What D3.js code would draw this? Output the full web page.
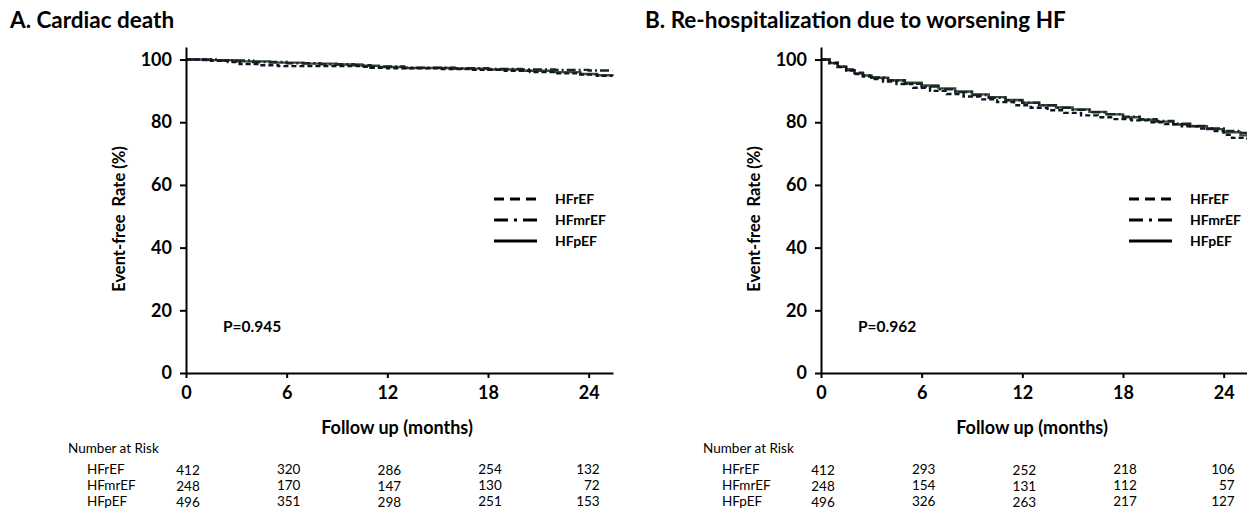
<html>
<head>
<script src="https://d3js.org/d3.v7.min.js"></script>
<style>
  body { margin: 0; background: #fff; }
  text { font-family: Lato, "Open Sans", sans-serif; fill: #000; }
  .axis path, .axis line { stroke: #000; stroke-width: 2; }
  .axis text { font-weight: bold; font-size: 18px; }
  .curve { fill: none; stroke-width: 2.4; }
</style>
</head>
<body>
<svg id="chart" width="1247" height="515"></svg>
<script>
// groups + styles
const groups = ['HFrEF', 'HFmrEF', 'HFpEF'];
const monthTicks = [0, 6, 12, 18, 24];
const rateTicks = [0, 20, 40, 60, 80, 100];

// A. cardiac death [month, event-free %]
const cardiacHFrEF = [[0,100],[1.5,99.6],[2.5,99.2],[3.2,98.6],[4.5,98.2],[5.5,97.9],[10.5,97.7],[11,97.4],[12,97.2],[15,97.0],[17,96.7],[19,96.4],[20.5,96.0],[22,95.6],[23.5,95.2],[24.5,94.8],[25.4,94.6]];
const cardiacHFmrEF = [[0,100],[2,99.7],[4,99.2],[6,98.8],[8,98.5],[10,98.2],[11,97.8],[13,97.4],[16,97.2],[18,97.0],[20,96.8],[22,96.7],[24,96.5],[25.4,96.5]];
const cardiacHFpEF = [[0,100],[1,99.8],[3,99.4],[5,99.0],[7,98.7],[9,98.4],[10.5,98.0],[11.5,97.6],[13,97.3],[16,97.1],[18,96.8],[20,96.4],[22,96.0],[23.5,95.4],[24.5,95.0],[25.4,94.8]];

// B. re-hospitalization
const rehospHFrEF = [[0,100],[0.5,98.8],[1,97.6],[1.5,96.5],[2,95.4],[2.5,94.6],[3,93.8],[3.7,93.0],[4.5,92.2],[5.5,91.0],[6.5,90.0],[7.5,89.0],[8.5,88.2],[9.5,87.3],[10.5,86.4],[11.5,85.4],[12.5,84.6],[13.5,83.8],[14.5,83.0],[15.5,82.2],[16.5,81.6],[17.5,81.0],[18.5,80.6],[19.5,80.0],[20.5,79.4],[21.5,78.7],[22.5,78.0],[23.3,77.2],[24,76.0],[24.5,75.0],[25.4,74.5]];
const rehospHFmrEF = [[0,100],[0.5,99.0],[1,97.8],[1.5,96.8],[2,95.8],[2.5,95.0],[3,94.3],[4,93.3],[5,92.3],[6,91.4],[7,90.5],[8,89.6],[9,88.7],[10,87.8],[11,87.0],[12,86.2],[13,85.4],[14,84.6],[15,84.0],[16,83.2],[17,82.6],[18,81.8],[19,81.0],[20,80.4],[21,79.5],[22,78.8],[23,78.0],[24,77.2],[25,76.6],[25.4,76.6]];
const rehospHFpEF = [[0,100],[0.5,98.9],[1,97.7],[1.5,96.6],[2,95.6],[2.5,94.9],[3,94.2],[4,93.4],[5,92.6],[6,91.7],[7,90.8],[8,89.8],[9,88.9],[10,88.0],[11,87.1],[12,86.2],[13,85.4],[14,84.7],[15,84.1],[16,83.3],[17,82.5],[18,81.6],[19,80.8],[20,80.2],[21,79.3],[22,78.7],[23,77.8],[24,76.8],[25,75.8],[25.4,75.5]];

// number at risk (rows = groups, cols = monthTicks)
const riskCardiac = [[412,320,286,254,132],[248,170,147,130,72],[496,351,298,251,153]];
const riskRehosp = [[412,293,252,218,106],[248,154,131,112,57],[496,326,263,217,127]];

const dashes = ['5,3', '9,3,2,3', null];
const colors = ['#111326', '#1c2620', '#3a4d40'];
const legendDash = ['10,6', '14,6,3,6', null];

const svg = d3.select('#chart');

function drawPanel(opt) {
    const g = svg.append('g');
    const x = d3.scaleLinear().domain([0, 25.45]).range([opt.x0, opt.x0 + 427]);
    const y = d3.scaleLinear().domain([0, 104]).range([373, 47]);

    g.append('text')
        .attr('x', opt.titleX).attr('y', 28)
        .attr('font-size', 22.5).attr('font-weight', 'bold')
        .text(opt.title);

    // curves, solid one underneath
    const line = d3.line().x(d => x(d[0])).y(d => y(d[1])).curve(d3.curveStepAfter);
    [2, 1, 0].forEach(i => {
        g.append('path')
            .attr('class', 'curve')
            .attr('d', line(opt.curves[i]))
            .attr('stroke', colors[i])
            .attr('stroke-dasharray', dashes[i]);
    });

    let yAxis = d3.axisLeft(y).tickValues(rateTicks).tickSize(6).tickSizeOuter(0).tickPadding(8);
    g.append('g').attr('class', 'axis')
        .attr('transform', `translate(${opt.x0},0)`)
        .call(yAxis);

    let xAxis = d3.axisBottom(x).tickValues(monthTicks).tickSize(5).tickSizeOuter(0).tickPadding(8);
    g.append('g').attr('class', 'axis')
        .attr('transform', `translate(0,${y(0)})`)
        .call(xAxis);

    g.append('text')
        .attr('transform', `translate(${opt.x0 - 61},219) rotate(-90)`)
        .attr('text-anchor', 'middle')
        .attr('font-size', 16.5).attr('font-weight', 'bold')
        .attr('xml:space', 'preserve')
        .text('Event-free  Rate (%)');

    g.append('text')
        .attr('x', opt.x0 + 211).attr('y', 434)
        .attr('text-anchor', 'middle')
        .attr('font-size', 18).attr('font-weight', 'bold')
        .text('Follow up (months)');

    g.append('text')
        .attr('x', opt.x0 + 37).attr('y', 332)
        .attr('font-size', 15.5).attr('font-weight', 'bold')
        .text(opt.p);

    // legend
    groups.forEach((name, i) => {
        const ly = 199 + i * 21;
        g.append('line')
            .attr('x1', opt.x0 + 308).attr('x2', opt.x0 + 351)
            .attr('y1', ly).attr('y2', ly)
            .attr('stroke', '#000').attr('stroke-width', 3)
            .attr('stroke-dasharray', legendDash[i]);
        g.append('text')
            .attr('x', opt.x0 + 369).attr('y', ly + 5)
            .attr('font-size', 14).attr('font-weight', 'bold')
            .text(name);
    });

    // number at risk table
    g.append('text')
        .attr('x', opt.x0 - 118).attr('y', 453)
        .attr('font-size', 13.5)
        .text('Number at Risk');
    groups.forEach((name, i) => {
        const ry = 474 + i * 16;
        g.append('text')
            .attr('x', opt.x0 - 99).attr('y', ry)
            .attr('font-size', 13.5)
            .text(name);
        opt.risk[i].forEach((v, j) => {
            const last = j === monthTicks.length - 1;
            g.append('text')
                .attr('x', last ? x(monthTicks[j]) + 11 : x(monthTicks[j]) + 2)
                .attr('y', ry + (j % 2 === 0 && j < 4 ? 1 : 0))
                .attr('text-anchor', last ? 'end' : 'middle')
                .attr('font-size', 13.5)
                .text(v);
        });
    });
}

drawPanel({
    x0: 186, titleX: 10, title: 'A. Cardiac death', p: 'P=0.945',
    curves: [cardiacHFrEF, cardiacHFmrEF, cardiacHFpEF], risk: riskCardiac
});
drawPanel({
    x0: 821, titleX: 645, title: 'B. Re-hospitalization due to worsening HF', p: 'P=0.962',
    curves: [rehospHFrEF, rehospHFmrEF, rehospHFpEF], risk: riskRehosp
});
</script>
</body>
</html>
